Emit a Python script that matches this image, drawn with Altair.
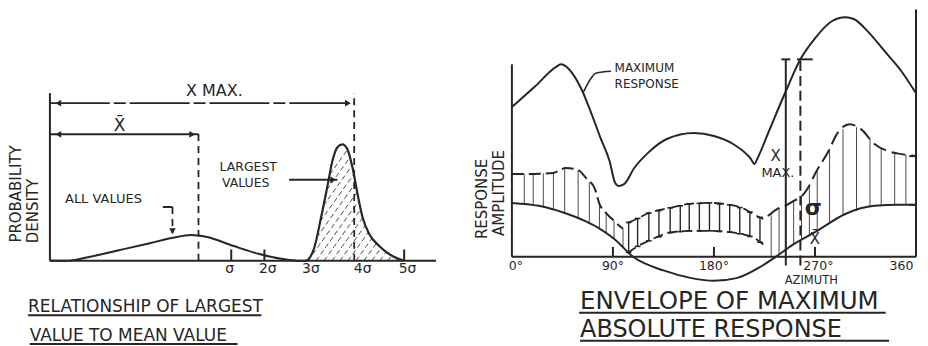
import altair as alt
import numpy as np
import pandas as pd

INK = "#262626"
HATCH = "#4a4a4a"
FONT = "DejaVu Sans"

# ---------------- Left panel: relationship of largest value to mean value
# x: distance from the density axis (sigma-like units), y: probability density (0-100)
all_u = [0, 0.40, 0.87, 1.59, 2.38, 2.93, 3.37, 3.72, 4.36, 4.99, 5.55, 5.94, 6.10]
all_v = [0, 0, 1.3, 4.0, 7.0, 9.2, 10.3, 9.6, 6.0, 2.7, 0.7, 0, 0]
large_u = [6.10, 6.14, 6.30, 6.46, 6.62, 6.73, 6.85, 6.97, 7.09, 7.21, 7.33, 7.45,
           7.61, 7.84, 8.08, 8.32, 8.44]
large_v = [0, 0.3, 5.3, 17.2, 30.4, 39.7, 45.2, 46.3, 44.3, 37.0, 26.5, 17.2,
           10.6, 6.0, 2.7, 0.7, 0]
mean_u = 3.54
xmax_u = 7.25
sig_label_u = [4.28, 5.19, 6.22, 7.45, 8.52]
sig_labels = ["σ", "2σ", "3σ", "4σ", "5σ"]
sig_tick_u = [4.32, 5.11, 8.44]

# ---------------- Right panel: envelope of maximum absolute response
max_az = [0, 21, 40, 44, 50, 62, 70, 79, 87, 92, 95, 100, 109, 121, 138, 162, 180,
          197, 209, 213, 216, 219, 229, 244, 257, 270, 285, 297, 305, 317, 332, 347, 360]
max_v = [60.5, 69.0, 77.0, 77.8, 76.2, 67.7, 58.9, 48.0, 38.7, 29.8, 28.6, 29.4, 35.9,
         41.9, 47.6, 50.0, 48.8, 45.6, 41.5, 39.5, 37.5, 40.0, 50.8, 66.9, 79.8, 88.3,
         95.2, 96.8, 96.0, 91.1, 83.1, 75.0, 66.1]
mean_az = [0, 24, 47, 65, 77, 91, 108, 135, 160, 180, 200, 220, 235, 250, 272, 297, 323, 345, 360]
mean_v = [21.8, 20.6, 17.7, 14.5, 11.7, 7.3, 0, -5.5, -8.6, -9.7, -8.6, -4.4, 0, 4.8,
          10.5, 17.3, 20.6, 21.0, 21.0]
env1_az = [0, 20, 37, 48, 59, 66, 74, 78, 84, 91, 99]
env1_v = [33.5, 33.5, 33.9, 35.9, 35.1, 31.9, 27.4, 21.4, 17.7, 14.5, 11.3]
env2_az = [103, 111, 122, 141, 158, 176, 194, 207, 215, 224]
env2_top = [13.7, 15.3, 17.7, 19.8, 21.4, 21.8, 21.0, 19.4, 17.3, 15.3]
env2_bot = [1.5, 4.0, 6.5, 9.8, 10.5, 10.5, 10.0, 9.0, 7.8, 5.0]
env3_az = [228, 238, 245, 251, 257, 264, 270, 282, 290, 301, 311, 323, 335, 347, 360]
env3_v = [16.5, 19.8, 21.0, 22.6, 24.0, 28.0, 33.5, 42.7, 50.0, 53.6, 51.6, 45.6,
          42.7, 41.5, 40.7]
hatch1_az = [11, 19, 28, 37, 47, 59, 69, 78, 84, 91, 99]
bars_az = [104, 112, 122, 131, 141, 150, 158, 167, 176, 185, 194, 203, 212, 221]
hatch3_az = [231, 238, 244, 251, 258, 265, 272, 283, 295, 307, 319, 329, 341, 351]
az_ticks = [90, 180, 270]
az_label_pos = [3.5, 90, 180, 273, 347]
az_labels = ["0°", "90°", "180°", "270°", "360"]
xmax_az = 244
xmax_dash_az = 257
xmax_level = 79.8


# ---------------- helpers
def sc(dom):
    return alt.Scale(domain=dom, nice=False, zero=False)


def XE(s, f="x"):
    return alt.X(f"{f}:Q", scale=s, axis=None)


def YE(s, f="y"):
    return alt.Y(f"{f}:Q", scale=s, axis=None)


def rules(rows, sx, sy, **mk):
    df = pd.DataFrame(rows, columns=["x", "y", "x2", "y2"])
    return alt.Chart(df).mark_rule(**mk).encode(
        x=XE(sx), y=YE(sy), x2=alt.X2("x2:Q"), y2=alt.Y2("y2:Q"))


def curve(xs, ys, sx, sy, **mk):
    df = pd.DataFrame({"x": xs, "y": ys, "i": range(len(xs))})
    return alt.Chart(df).mark_line(**mk).encode(
        x=XE(sx), y=YE(sy), order="i:Q")


def texts(rows, sx, sy, align="center", baseline="middle", **mk):
    df = pd.DataFrame(rows, columns=["t", "x", "y", "s", "a"])
    return alt.Chart(df).mark_text(align=align, baseline=baseline, font=FONT,
                                   color=INK, **mk).encode(
        x=XE(sx), y=YE(sy), text="t:N",
        size=alt.Size("s:Q", scale=None), angle=alt.Angle("a:Q", scale=None))


def arrows(rows, sx, sy, shape, size=45):
    df = pd.DataFrame(rows, columns=["x", "y"])
    return alt.Chart(df).mark_point(shape=shape, filled=True, color=INK, size=size,
                                    opacity=1).encode(x=XE(sx), y=YE(sy))


# ---------------- left panel
LX, LY = sc([0, 9.2]), sc([0, 100])

# diagonal hatching under the "largest values" density, derived from its curve
gx = np.linspace(large_u[0], large_u[-1], 800)
gf = np.interp(gx, large_u, large_v)
slope = 23.4
hrows = []
for c in np.arange(5.2, 8.35, 0.19):
    ln = (gx - c) * slope
    m = (gx >= c) & (ln <= gf) & (gf > 0.2)
    if m.sum() < 3:
        continue
    u0, u1 = gx[m].min(), gx[m].max()
    hrows.append([u0, (u0 - c) * slope, u1, (u1 - c) * slope])

left_layers = [
    rules(hrows, LX, LY, color=HATCH, strokeWidth=1, strokeDash=[5, 3]),
    curve(all_u, all_v, LX, LY, color=INK, strokeWidth=2, interpolate="monotone"),
    curve(large_u, large_v, LX, LY, color=INK, strokeWidth=2.2, interpolate="monotone"),
    rules([[0, 0, 0, 66.7], [0, 0, 9.2, 0], [0, 50.3, mean_u, 50.3],
           [5.70, 32.2, 6.85, 32.2], [2.69, 21.4, 2.92, 21.4]]
          + [[t, 0, t, 4.5] for t in sig_tick_u],
          LX, LY, color=INK, strokeWidth=2),
    rules([[mean_u, 0, mean_u, 50.8], [xmax_u, 0, xmax_u, 66.7], [2.92, 21.4, 2.92, 11]],
          LX, LY, color=INK, strokeWidth=1.8, strokeDash=[7, 5]),
    rules([[0, 62.7, xmax_u, 62.7]], LX, LY, color=INK, strokeWidth=1.8,
          strokeDash=[60, 4, 12, 4]),
    arrows([[0.2, 62.7], [0.2, 50.3]], LX, LY, "triangle-left"),
    arrows([[xmax_u - 0.15, 62.7], [mean_u - 0.15, 50.3], [6.75, 32.2]], LX, LY,
           "triangle-right"),
    arrows([[2.92, 11.8]], LX, LY, "triangle-down"),
    texts([["X MAX.", 3.92, 67.5, 16, 0], ["X̄", 1.66, 53.6, 17, 0]]
          + [[l, p, -3.4, 14, 0] for l, p in zip(sig_labels, sig_label_u)],
          LX, LY),
    texts([["LARGEST", 4.04, 37.3, 12.5, 0], ["VALUES", 4.10, 31.0, 12.5, 0],
           ["ALL VALUES", 0.36, 24.6, 13, 0]], LX, LY, align="left"),
    texts([["PROBABILITY", -0.81, 26.6, 15, 270], ["DENSITY", -0.40, 19.8, 15, 270]],
          LX, LY),
    texts([["RELATIONSHIP OF LARGEST", -0.52, -20.5, 17, 0],
           ["VALUE TO MEAN VALUE", -0.48, -31.7, 17, 0]],
          LX, LY, align="left", baseline="alphabetic"),
    rules([[-0.52, -21.6, 5.04, -21.6], [-0.48, -33.1, 4.47, -33.1]], LX, LY,
          color=INK, strokeWidth=2),
]
left = alt.layer(*left_layers).properties(width=387, height=252)

# ---------------- right panel
RX, RY = sc([0, 360]), sc([0, 100])

env_all = np.concatenate([env1_az, env3_az])
env_val = np.concatenate([env1_v, env3_v])
h13 = []
for a in hatch1_az + hatch3_az:
    top = float(np.interp(a, env_all, env_val))
    bot = max(float(np.interp(a, mean_az, mean_v)), 0.0)
    h13.append([a, bot, a, top])
bars, caps = [], []
for a in bars_az:
    top = float(np.interp(a, env2_az, env2_top))
    bot = float(np.interp(a, env2_az, env2_bot))
    bars.append([a, bot, a, top])
    caps.append([a - 2.5, top, a + 2.5, top])
    caps.append([a - 2.5, bot, a + 2.5, bot])

right_layers = [
    rules(h13, RX, RY, color=HATCH, strokeWidth=1),
    rules(bars, RX, RY, color=INK, strokeWidth=1.4),
    rules(caps, RX, RY, color=INK, strokeWidth=1.6),
    curve(max_az, max_v, RX, RY, color=INK, strokeWidth=2, interpolate="monotone"),
    curve(mean_az, mean_v, RX, RY, color=INK, strokeWidth=2, interpolate="monotone"),
    curve(env1_az, env1_v, RX, RY, color=INK, strokeWidth=2, interpolate="monotone",
          strokeDash=[12, 5]),
    curve(env2_az, env2_top, RX, RY, color=INK, strokeWidth=1.8, interpolate="monotone",
          strokeDash=[10, 5]),
    curve(env2_az, env2_bot, RX, RY, color=INK, strokeWidth=1.8, interpolate="monotone",
          strokeDash=[10, 5]),
    curve(env3_az, env3_v, RX, RY, color=INK, strokeWidth=2, interpolate="monotone",
          strokeDash=[14, 6]),
    rules([[0, 0, 0, 77.8], [360, 0, 360, 100], [0, 0, 360, 0],
           [xmax_az, -3.5, xmax_az, xmax_level],
           [xmax_az - 4, xmax_level, xmax_az + 4, xmax_level],
           [xmax_dash_az - 3, xmax_level, xmax_dash_az + 11, xmax_level],
           [354, 40.7, 360, 40.7], [354, 21.0, 360, 21.0]]
          + [[t, 0, t, 4] for t in az_ticks],
          RX, RY, color=INK, strokeWidth=2),
    rules([[xmax_dash_az, -3.5, xmax_dash_az, xmax_level]], RX, RY, color=INK,
          strokeWidth=2, strokeDash=[10, 5]),
    curve([88.3, 75.1, 70.7, 63.4], [75, 74.3, 72.3, 66.3], RX, RY, color=INK,
          strokeWidth=1.6, interpolate="monotone"),
    texts([["MAXIMUM", 91.5, 76.4, 12, 0], ["RESPONSE", 91.5, 69.8, 12, 0]],
          RX, RY, align="left"),
    texts([["X", 235, 40.7, 15, 0], ["MAX.", 237, 34, 13, 0], ["X̄", 270, 7.3, 15, 0],
           ["AZIMUTH", 266.7, -9.6, 11.5, 0],
           ["RESPONSE", -26.4, 23.4, 15, 270], ["AMPLITUDE", -11.4, 25.8, 15, 270]]
          + [[l, p, -3.6, 12.5, 0] for l, p in zip(az_labels, az_label_pos)],
          RX, RY),
    texts([["σ", 268.5, 19.8, 22, 0]], RX, RY, fontWeight="bold"),
    texts([["ENVELOPE OF MAXIMUM", 60.7, -21.1, 24.5, 0],
           ["ABSOLUTE RESPONSE", 60.7, -32.5, 24, 0]],
          RX, RY, align="left", baseline="alphabetic"),
    rules([[59.9, -22.6, 333, -22.6], [60.7, -33.9, 336, -33.9]], RX, RY,
          color=INK, strokeWidth=2),
]
right = alt.layer(*right_layers).properties(width=405, height=248)

chart = (
    alt.hconcat(left, right, spacing=76, bounds="flush")
    .properties(padding=0, background="white")
    .configure_view(stroke=None)
)

chart.save("out.html", embed_options={"renderer": "svg", "actions": False})
